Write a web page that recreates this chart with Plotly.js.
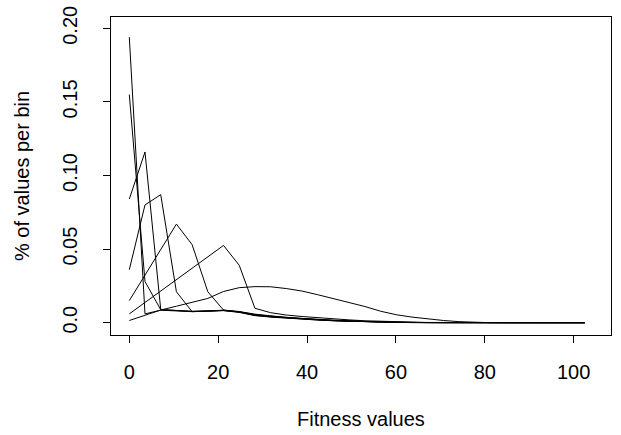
<!DOCTYPE html>
<html>
<head>
<meta charset="utf-8">
<script src="https://cdn.plot.ly/plotly-3.0.1.min.js"></script>
<style>
html,body{margin:0;padding:0;background:#fff;}
#chart{width:621px;height:435px;}
</style>
</head>
<body>
<div id="chart"></div>
<script>
// Bin positions (fitness values)
const binX = [0, 3.53, 7.07, 10.6, 14.14, 17.67, 21.2, 24.74, 28.27, 31.81, 35.34, 38.88, 42.41, 45.95, 49.48,
              53.02, 56.55, 60.09, 63.62, 67.16, 70.69, 74.23, 77.76, 81.3, 84.83, 88.37, 91.9, 95.44, 98.97, 102.5];

// Series: share of values per bin
const seriesA = [0.194, 0.006, 0.0085, 0.0080, 0.0075, 0.0078, 0.0082, 0.0070, 0.0048, 0.0038, 0.0030, 0.0024, 0.0018, 0.0013, 0.0009,
                 0.0006, 0.0004, 0.0002, 0.0001, 0.0001, 0, 0, 0, 0, 0, 0, 0, 0, 0, 0];
const seriesB = [0.155, 0.028, 0.0088, 0.0082, 0.0078, 0.0080, 0.0085, 0.0074, 0.0055, 0.0044, 0.0035, 0.0028, 0.0021, 0.0015, 0.0011,
                 0.0007, 0.0005, 0.0003, 0.0002, 0.0001, 0, 0, 0, 0, 0, 0, 0, 0, 0, 0];
const seriesC = [0.084, 0.116, 0.0090, 0.0084, 0.0076, 0.0079, 0.0083, 0.0072, 0.0050, 0.0040, 0.0032, 0.0025, 0.0019, 0.0014, 0.0010,
                 0.0007, 0.0004, 0.0002, 0.0001, 0, 0, 0, 0, 0, 0, 0, 0, 0, 0, 0];
const seriesD = [0.036, 0.080, 0.087, 0.021, 0.0075, 0.0077, 0.0084, 0.0073, 0.0053, 0.0041, 0.0033, 0.0026, 0.0020, 0.0014, 0.0010,
                 0.0006, 0.0004, 0.0002, 0.0001, 0, 0, 0, 0, 0, 0, 0, 0, 0, 0, 0];
const seriesE = [0.015, 0.032, 0.050, 0.067, 0.053, 0.021, 0.0086, 0.0076, 0.0058, 0.0046, 0.0036, 0.0029, 0.0022, 0.0016, 0.0012,
                 0.0008, 0.0005, 0.0003, 0.0001, 0, 0, 0, 0, 0, 0, 0, 0, 0, 0, 0];
const seriesF = [0.006, 0.0138, 0.0216, 0.0294, 0.0372, 0.045, 0.0525, 0.039, 0.0098, 0.0068, 0.0052, 0.0042, 0.0033, 0.0025, 0.0019,
                 0.0013, 0.0009, 0.0005, 0.0003, 0.0001, 0, 0, 0, 0, 0, 0, 0, 0, 0, 0];
const seriesH = [0.0015, 0.005, 0.0086, 0.0112, 0.0138, 0.0165, 0.0212, 0.0238, 0.0245, 0.0244, 0.0232, 0.0215, 0.019, 0.0163, 0.0138,
                 0.011, 0.0078, 0.0054, 0.0038, 0.0025, 0.0015, 0.0007, 0.0002, 0, 0, 0, 0, 0, 0, 0];

const allSeries = [seriesA, seriesB, seriesC, seriesD, seriesE, seriesF, seriesH];

const xTicks = [0, 20, 40, 60, 80, 100];
const yTicks = [0, 0.05, 0.10, 0.15, 0.20];
const yTickText = ["0.0", "0.05", "0.10", "0.15", "0.20"];

const FONT = "Liberation Sans, Arial, Helvetica, sans-serif";

const traces = allSeries.map(s => ({
  x: binX, y: s, type: "scatter", mode: "lines",
  line: {color: "#000", width: 1}, hoverinfo: "skip", showlegend: false
}));

const layout = {
  width: 621, height: 435,
  margin: {l: 111, r: 10, t: 17, b: 100, pad: 0},
  paper_bgcolor: "#fff", plot_bgcolor: "#fff",
  font: {family: FONT, size: 20, color: "#000"},
  showlegend: false,
  xaxis: {
    range: [-4.12, 108.4], tickmode: "array", tickvals: xTicks,
    ticks: "outside", ticklen: 7, tickwidth: 1, tickcolor: "#000",
    ticklabelstandoff: 12,
    showline: true, mirror: true, linecolor: "#000", linewidth: 1,
    showgrid: false, zeroline: false,
    tickfont: {family: FONT, size: 20, color: "#000"}
  },
  yaxis: {
    range: [-0.00836, 0.2077], tickmode: "array", tickvals: yTicks, ticktext: yTickText,
    tickangle: -90,
    ticks: "outside", ticklen: 7, tickwidth: 1, tickcolor: "#000",
    ticklabelstandoff: 18,
    showline: true, mirror: true, linecolor: "#000", linewidth: 1,
    showgrid: false, zeroline: false,
    tickfont: {family: FONT, size: 20, color: "#000"}
  },
  annotations: [
    {text: "Fitness values", xref: "paper", yref: "paper", x: 0.5, y: 0,
     xanchor: "center", yanchor: "middle", yshift: -84, showarrow: false,
     font: {family: FONT, size: 20, color: "#000"}},
    {text: "% of values per bin", xref: "paper", yref: "paper", x: 0, y: 0.5,
     xanchor: "center", yanchor: "middle", xshift: -89, textangle: -90, showarrow: false,
     font: {family: FONT, size: 20, color: "#000"}}
  ]
};

Plotly.newPlot("chart", traces, layout, {staticPlot: true, displayModeBar: false});
</script>
</body>
</html>
